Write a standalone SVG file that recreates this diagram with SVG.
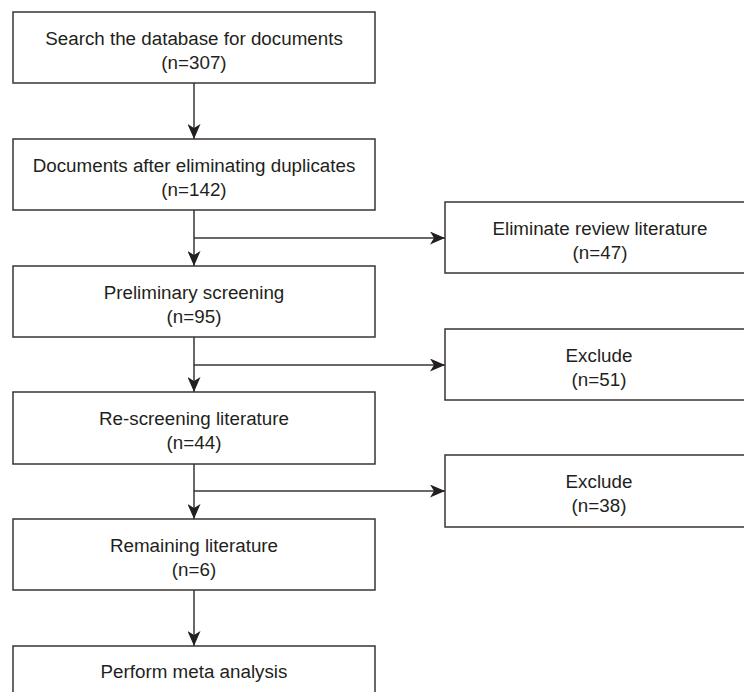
<svg xmlns="http://www.w3.org/2000/svg" width="744" height="692" viewBox="0 0 744 692">
<style>
.box{fill:#ffffff;stroke:#3a3433;stroke-width:1.5}
.lbl{font-family:"Liberation Sans",Arial,sans-serif;font-size:18.8px;fill:#231f20;text-anchor:middle}
.con{stroke:#3a3433;stroke-width:1.5;fill:none}
</style>
<defs>
<marker id="ah" markerUnits="userSpaceOnUse" markerWidth="16" markerHeight="13" refX="15" refY="6.5" orient="auto" viewBox="0 0 16 13">
<path d="M0,0 L15,6.5 L0,13 L4,6.5 Z" fill="#231f20"/>
</marker>
</defs>
<rect width="744" height="692" fill="#ffffff"/>
<g id="connectors">
<line class="con" x1="194" y1="83" x2="194" y2="139" marker-end="url(#ah)"/>
<line class="con" x1="194" y1="210" x2="194" y2="266" marker-end="url(#ah)"/>
<line class="con" x1="194" y1="238" x2="445" y2="238" marker-end="url(#ah)"/>
<line class="con" x1="194" y1="337" x2="194" y2="392" marker-end="url(#ah)"/>
<line class="con" x1="194" y1="365" x2="445" y2="365" marker-end="url(#ah)"/>
<line class="con" x1="194" y1="464" x2="194" y2="519" marker-end="url(#ah)"/>
<line class="con" x1="194" y1="491" x2="445" y2="491" marker-end="url(#ah)"/>
<line class="con" x1="194" y1="590" x2="194" y2="646" marker-end="url(#ah)"/>
</g>
<g id="n1"><rect class="box" x="13" y="12" width="362" height="71"/><text class="lbl" x="194" y="45">Search the database for documents</text><text class="lbl" x="194" y="69">(n=307)</text></g>
<g id="n2"><rect class="box" x="13" y="139" width="362" height="71"/><text class="lbl" x="194" y="172">Documents after eliminating duplicates</text><text class="lbl" x="194" y="196">(n=142)</text></g>
<g id="n3"><rect class="box" x="13" y="266" width="362" height="71"/><text class="lbl" x="194" y="299">Preliminary screening</text><text class="lbl" x="194" y="323">(n=95)</text></g>
<g id="n4"><rect class="box" x="13" y="392" width="362" height="72"/><text class="lbl" x="194" y="425">Re-screening literature</text><text class="lbl" x="194" y="449">(n=44)</text></g>
<g id="n5"><rect class="box" x="13" y="519" width="362" height="71"/><text class="lbl" x="194" y="552">Remaining literature</text><text class="lbl" x="194" y="576">(n=6)</text></g>
<g id="n6"><rect class="box" x="13" y="646" width="362" height="72"/><text class="lbl" x="194" y="678">Perform meta analysis</text></g>
<g id="r1"><rect class="box" x="445" y="202" width="320" height="71"/><text class="lbl" x="600" y="235">Eliminate review literature</text><text class="lbl" x="600" y="259">(n=47)</text></g>
<g id="r2"><rect class="box" x="445" y="329" width="320" height="71"/><text class="lbl" x="599" y="362">Exclude</text><text class="lbl" x="599" y="386">(n=51)</text></g>
<g id="r3"><rect class="box" x="445" y="455" width="320" height="72"/><text class="lbl" x="599" y="488">Exclude</text><text class="lbl" x="599" y="512">(n=38)</text></g>
</svg>
